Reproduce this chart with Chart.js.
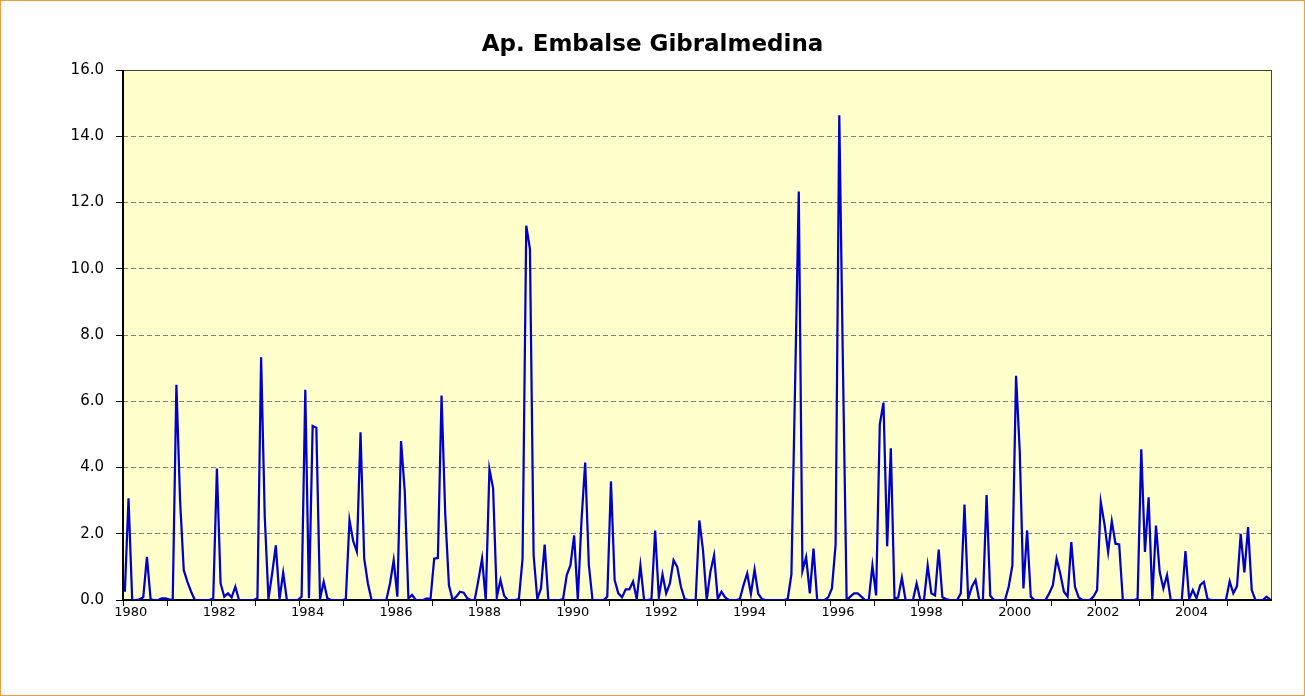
<!DOCTYPE html>
<html>
<head>
<meta charset="utf-8">
<title>Ap. Embalse Gibralmedina</title>
<script src="https://cdn.jsdelivr.net/npm/chart.js@4.4.1/dist/chart.umd.min.js"></script>
<style>
  html, body { margin: 0; padding: 0; background: #fff; }
  #wrap { width: 1305px; height: 696px; }
</style>
</head>
<body>
<div id="wrap"><canvas id="chartAport" width="1305" height="696"></canvas></div>
<script>
// aportaciones mensuales, ene 1980 - dic 2005
const anios = [1980, 1981, 1982, 1983, 1984, 1985, 1986, 1987, 1988, 1989, 1990, 1991, 1992,
               1993, 1994, 1995, 1996, 1997, 1998, 1999, 2000, 2001, 2002, 2003, 2004, 2005];
const meses = ['ene', 'feb', 'mar', 'abr', 'may', 'jun', 'jul', 'ago', 'sep', 'oct', 'nov', 'dic'];
const etiquetasAnio = ['1980', '1982', '1984', '1986', '1988', '1990', '1992',
                       '1994', '1996', '1998', '2000', '2002', '2004'];
const ticksY = [0, 2, 4, 6, 8, 10, 12, 14, 16];

const ap1980 = [0.25, 3.07, 0, 0, 0.02, 0.08, 1.3, 0.02, 0, 0, 0.05, 0.05];
const ap1981 = [0.02, 0, 6.5, 3.0, 0.9, 0.55, 0.25, 0, 0, 0, 0, 0];
const ap1982 = [0.05, 3.97, 0.5, 0.1, 0.2, 0.08, 0.4, 0, 0, 0, 0, 0];
const ap1983 = [0.05, 7.33, 2.5, 0.03, 0.8, 1.65, 0.03, 0.82, 0, 0, 0, 0];
const ap1984 = [0.1, 6.35, 0.05, 5.25, 5.2, 0.03, 0.55, 0.05, 0, 0, 0, 0];
const ap1985 = [0.02, 2.41, 1.78, 1.46, 5.06, 1.25, 0.5, 0, 0, 0, 0, 0];
const ap1986 = [0.5, 1.2, 0.1, 4.8, 3.3, 0.05, 0.15, 0, 0, 0, 0.05, 0.03];
const ap1987 = [1.25, 1.27, 6.17, 2.6, 0.45, 0, 0.1, 0.25, 0.22, 0.05, 0, 0];
const ap1988 = [0.6, 1.25, 0, 3.95, 3.37, 0.08, 0.6, 0.13, 0, 0, 0, 0.03];
const ap1989 = [1.25, 11.3, 10.6, 1.35, 0.03, 0.35, 1.67, 0, 0, 0, 0, 0.03];
const ap1990 = [0.75, 1.05, 1.95, 0, 2.4, 4.15, 1.05, 0, 0, 0, 0, 0.1];
const ap1991 = [3.58, 0.6, 0.2, 0.08, 0.32, 0.32, 0.56, 0.03, 1.04, 0, 0, 0.03];
const ap1992 = [2.1, 0.08, 0.77, 0.2, 0.5, 1.2, 1.0, 0.4, 0.03, 0, 0, 0];
const ap1993 = [2.4, 1.5, 0, 0.85, 1.35, 0.03, 0.25, 0.08, 0, 0, 0, 0.03];
const ap1994 = [0.45, 0.8, 0.18, 0.92, 0.18, 0.03, 0, 0, 0, 0, 0, 0];
const ap1995 = [0.03, 0.77, 6.5, 12.33, 0.88, 1.3, 0.2, 1.55, 0, 0, 0, 0.08];
const ap1996 = [0.35, 1.67, 14.63, 7.0, 0, 0.1, 0.2, 0.2, 0.1, 0, 0, 1.04];
const ap1997 = [0.14, 5.3, 5.96, 1.62, 4.58, 0.03, 0.08, 0.67, 0, 0, 0, 0.5];
const ap1998 = [0, 0, 1.04, 0.2, 0.14, 1.52, 0.08, 0.03, 0, 0, 0, 0.2];
const ap1999 = [2.88, 0.03, 0.4, 0.6, 0, 0, 3.17, 0.13, 0, 0, 0, 0];
const ap2000 = [0.4, 1.04, 6.77, 4.5, 0.35, 2.1, 0.1, 0, 0, 0, 0, 0.2];
const ap2001 = [0.45, 1.25, 0.8, 0.25, 0.1, 1.75, 0.4, 0.08, 0, 0, 0, 0.1];
const ap2002 = [0.3, 2.96, 2.3, 1.45, 2.38, 1.7, 1.68, 0, 0, 0, 0, 0.03];
const ap2003 = [4.55, 1.45, 3.1, 0.03, 2.25, 0.85, 0.35, 0.75, 0, 0, 0, 0];
const ap2004 = [1.48, 0.03, 0.3, 0.05, 0.45, 0.55, 0.03, 0, 0, 0, 0, 0];
const ap2005 = [0.56, 0.2, 0.42, 2.0, 0.83, 2.2, 0.3, 0, 0, 0, 0.1, 0.02];

const aportaciones = [].concat(ap1980, ap1981, ap1982, ap1983, ap1984, ap1985, ap1986, ap1987,
  ap1988, ap1989, ap1990, ap1991, ap1992, ap1993, ap1994, ap1995, ap1996, ap1997, ap1998,
  ap1999, ap2000, ap2001, ap2002, ap2003, ap2004, ap2005);
const categorias = anios.flatMap(a => meses.map(m => m + ' ' + a));

// fondo amarillo, marco del area de trazado y marco naranja exterior
const fondo = {
    id: 'fondo',
    beforeDraw(chart) {
        const {ctx, chartArea: a} = chart;
        ctx.save();
        ctx.fillStyle = '#fff';
        ctx.fillRect(0, 0, chart.width, chart.height);
        ctx.fillStyle = '#FFFFCC';
        ctx.fillRect(a.left, a.top, a.right - a.left, a.bottom - a.top);
        ctx.restore();
    },
    beforeDatasetsDraw(chart) {
        const {ctx, chartArea: a} = chart;
        ctx.save();
        ctx.strokeStyle = '#404040';
        ctx.lineWidth = 1;
        ctx.strokeRect(a.left + 0.5, a.top + 0.5, a.right - a.left - 1, a.bottom - a.top);
        ctx.strokeStyle = '#000';
        ctx.lineWidth = 2;
        ctx.beginPath();
        ctx.moveTo(a.left, a.top);
        ctx.lineTo(a.left, a.bottom);
        ctx.lineTo(a.right, a.bottom);
        ctx.stroke();
        ctx.restore();
    },
    afterDraw(chart) {
        const ctx = chart.ctx;
        ctx.save();
        ctx.strokeStyle = '#F39A3C';
        ctx.lineWidth = 1;
        ctx.strokeRect(0.5, 0.5, chart.width - 1, chart.height - 1);
        ctx.restore();
    }
};

document.addEventListener('DOMContentLoaded', function () {
    const ctx = document.getElementById('chartAport').getContext('2d');
    const chart = new Chart(ctx, {
        type: 'line',
        data: {
            labels: categorias,
            datasets: [{
                label: 'Aportaciones',
                data: aportaciones,
                borderColor: '#0000CC',
                borderWidth: 2.25,
                pointRadius: 0,
                tension: 0,
                fill: false
            }]
        },
        options: {
            responsive: false,
            animation: false,
            layout: { padding: 0 },
            plugins: {
                legend: { display: false },
                tooltip: { enabled: false },
                title: {
                    display: true,
                    text: 'Ap. Embalse Gibralmedina',
                    color: '#000',
                    font: { family: 'DejaVu Sans', size: 23, weight: 'bold', lineHeight: 1.2 },
                    padding: { top: 31, bottom: 11.4 }
                }
            },
            scales: {
                x: {
                    type: 'category',
                    offset: true,
                    grid: {
                        offset: true,
                        drawOnChartArea: false,
                        tickLength: 6,
                        tickWidth: 1,
                        tickColor: c => (c.index % 12 === 0 ? '#000' : 'rgba(0,0,0,0)')
                    },
                    border: { display: false },
                    ticks: {
                        autoSkip: false,
                        maxRotation: 0,
                        minRotation: 0,
                        padding: -1,
                        labelOffset: 6,
                        color: '#000',
                        font: { family: 'DejaVu Sans', size: 13 },
                        callback: (v, i) => (i % 24 === 0 ? etiquetasAnio[i / 24] : '')
                    },
                    afterFit: s => { s.height = 96; }
                },
                y: {
                    min: ticksY[0],
                    max: ticksY[ticksY.length - 1],
                    grid: { color: '#808080', lineWidth: 1, tickColor: '#000', tickLength: 7 },
                    border: { display: false, dash: [5, 3] },
                    ticks: {
                        stepSize: 2,
                        padding: 12,
                        color: '#000',
                        font: { family: 'DejaVu Sans', size: 15 },
                        callback: v => v.toFixed(1)
                    },
                    afterFit: s => { s.width = 123; }
                },
                derecha: {
                    position: 'right',
                    display: true,
                    grid: { display: false },
                    border: { display: false },
                    ticks: { display: false },
                    afterFit: s => { s.width = 33; }
                }
            }
        },
        plugins: [fondo]
    });
});
</script>
</body>
</html>
